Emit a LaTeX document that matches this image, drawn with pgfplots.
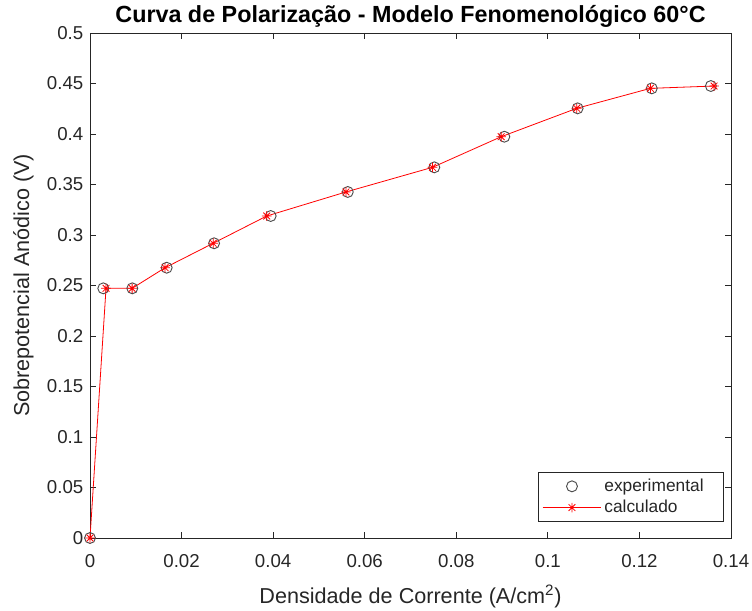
\documentclass[border=0pt]{standalone}
\usepackage{pgfplots}
\pgfplotsset{compat=1.18}
\usepackage{fontspec}
\setmainfont{Liberation Sans}
\definecolor{axgray}{rgb}{0.15,0.15,0.15}
\pgfdeclareplotmark{mstar}{%
  \pgfpathmoveto{\pgfqpoint{-\pgfplotmarksize}{0pt}}\pgfpathlineto{\pgfqpoint{\pgfplotmarksize}{0pt}}%
  \pgfpathmoveto{\pgfqpoint{0pt}{-\pgfplotmarksize}}\pgfpathlineto{\pgfqpoint{0pt}{\pgfplotmarksize}}%
  \pgfpathmoveto{\pgfqpoint{-0.707\pgfplotmarksize}{-0.707\pgfplotmarksize}}\pgfpathlineto{\pgfqpoint{0.707\pgfplotmarksize}{0.707\pgfplotmarksize}}%
  \pgfpathmoveto{\pgfqpoint{-0.707\pgfplotmarksize}{0.707\pgfplotmarksize}}\pgfpathlineto{\pgfqpoint{0.707\pgfplotmarksize}{-0.707\pgfplotmarksize}}%
  \pgfusepathqstroke}
\begin{document}
\begin{tikzpicture}
\useasboundingbox (-67.5pt,-54pt) rectangle (496.5pt,403.5pt);
\begin{axis}[
  at={(0,0)}, anchor=south west,
  scale only axis,
  width=480.75pt, height=378.75pt,
  xmin=0, xmax=0.14, ymin=0, ymax=0.5,
  xtick={0,0.02,0.04,0.06,0.08,0.1,0.12,0.14},
  xticklabels={0,0.02,0.04,0.06,0.08,0.1,0.12,0.14},
  ytick={0,0.05,0.1,0.15,0.2,0.25,0.3,0.35,0.4,0.45,0.5},
  yticklabels={0,0.05,0.1,0.15,0.2,0.25,0.3,0.35,0.4,0.45,0.5},
  tick align=inside,
  major tick length=4.5pt,
  axis line style={axgray, line width=0.6pt},
  every tick/.style={axgray, line width=0.6pt},
  tick label style={font=\fontsize{14}{16}\selectfont, text=axgray},
  xticklabel style={yshift=-8.5pt},
  yticklabel style={xshift=-1.5pt},
  label style={font=\fontsize{16.2}{19}\selectfont, text=axgray},
  xlabel={Densidade de Corrente (A/cm\textsuperscript{2})},
  ylabel={Sobrepotencial Anódico (V)},
  title={\textbf{Curva de Polarização - Modelo Fenomenológico 60°C}},
  title style={font=\fontsize{17.5}{20}\selectfont, yshift=-5pt},
  xlabel style={at={(axis description cs:0.5,0)}, anchor=center, yshift=-44pt},
  ylabel style={at={(axis description cs:0,0.5)}, anchor=center, yshift=50pt},
  legend style={at={(rel axis cs:0.989,0.032)}, anchor=south east,
    draw=axgray, line width=0.5pt, font=\fontsize{13}{15}\selectfont, text=axgray,
    inner xsep=3pt, inner ysep=3pt, row sep=1pt},
  legend cell align=left,
  legend image code/.code={
    \draw[mark repeat=2,mark phase=2,#1] plot coordinates {(0pt,0pt) (22pt,0pt) (44pt,0pt)};
  },
]
\addplot[only marks, mark=o, mark size=4.1pt, mark options={draw=black!70, line width=0.7pt}]
coordinates {
(0,0) (0.0029,0.2472) (0.00924,0.2472) (0.01675,0.2676) (0.0271,0.2918)
(0.03946,0.3188) (0.0563,0.3426) (0.0752,0.367) (0.0905,0.3973)
(0.1065,0.4254) (0.1227,0.4452) (0.1356,0.4475)
};
\addlegendentry{experimental\hspace*{10pt}\mbox{}}
\addplot[red, line width=0.6pt, mark=mstar, mark size=3.6pt, mark options={red, line width=0.6pt}]
coordinates {
(0,0) (0.0035,0.2472) (0.0092,0.2472) (0.0164,0.2676) (0.0269,0.2918)
(0.0386,0.3188) (0.0559,0.3426) (0.0748,0.367) (0.0898,0.3973)
(0.1063,0.4254) (0.1224,0.4452) (0.1363,0.4475)
};
\addlegendentry{calculado}
\end{axis}
\end{tikzpicture}
\end{document}
